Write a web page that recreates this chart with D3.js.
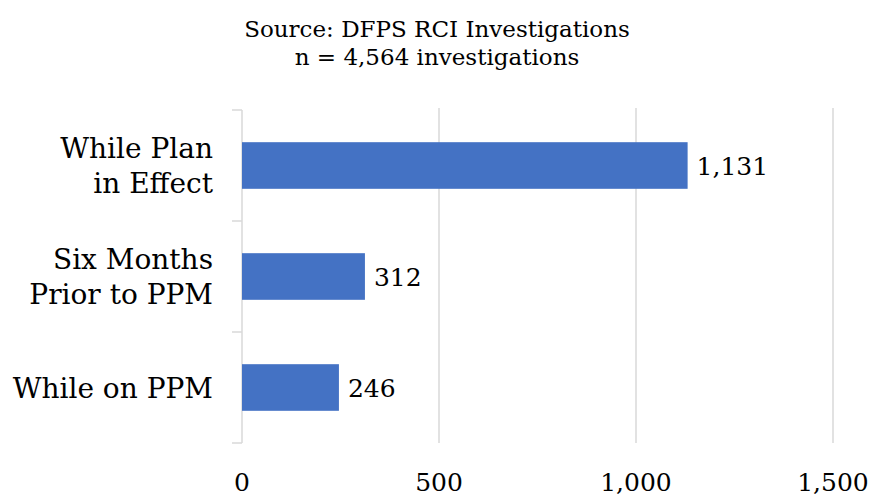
<!DOCTYPE html>
<html>
<head>
<meta charset="utf-8">
<script src="https://cdn.jsdelivr.net/npm/d3@7"></script>
<style>
  html, body { margin: 0; padding: 0; background: #fff; }
  svg text { font-family: "DejaVu Serif", "Liberation Serif", serif; fill: #000; }
</style>
</head>
<body>
<svg id="chart" width="875" height="498"></svg>
<script>
// Investigation counts by timing relative to the plan
const categories = [["While Plan", "in Effect"], ["Six Months", "Prior to PPM"], ["While on PPM"]];
const values = [1131, 312, 246];
const tickValues = [0, 500, 1000, 1500];
const titleLines = ["Source: DFPS RCI Investigations", "n = 4,564 investigations"];

const svg = d3.select("#chart");
const margin = { left: 242, right: 42, top: 110, bottom: 55 };
const W = 875, H = 498;

const x = d3.scaleLinear().domain([0, 1500]).range([margin.left, W - margin.right]);
const y = d3.scaleBand().domain(d3.range(categories.length))
  .range([margin.top, H - margin.bottom]).paddingInner(0.58).paddingOuter(0.29);

// Title
svg.selectAll("text.title").data(titleLines).join("text")
  .attr("class", "title")
  .attr("x", 437).attr("y", (d, i) => 37 + i * 28)
  .attr("text-anchor", "middle")
  .style("font-size", "23px")
  .text(d => d);

// Vertical gridlines
svg.append("g").selectAll("line").data(tickValues.slice(1)).join("line")
  .attr("x1", d => x(d)).attr("x2", d => x(d))
  .attr("y1", margin.top - 2).attr("y2", H - margin.bottom)
  .attr("stroke", "#d9d9d9").attr("stroke-width", 1.5);

// Category axis with ticks at band boundaries
const bandEdges = d3.range(categories.length + 1).map(i =>
  i < categories.length ? y(i) - y.step() * y.paddingInner() / 2 : y(categories.length - 1) + y.bandwidth() + y.step() * y.paddingInner() / 2);
const axisG = svg.append("g");
axisG.append("line")
  .attr("x1", x(0)).attr("x2", x(0))
  .attr("y1", bandEdges[0]).attr("y2", bandEdges[bandEdges.length - 1])
  .attr("stroke", "#d9d9d9").attr("stroke-width", 1.5);
axisG.selectAll("line.tick").data(bandEdges).join("line")
  .attr("class", "tick")
  .attr("x1", x(0) - 10).attr("x2", x(0))
  .attr("y1", d => d).attr("y2", d => d)
  .attr("stroke", "#d9d9d9").attr("stroke-width", 1.5);

// Bars
svg.append("g").selectAll("rect").data(values).join("rect")
  .attr("x", x(0))
  .attr("y", (d, i) => y(i))
  .attr("width", d => x(d) - x(0))
  .attr("height", y.bandwidth())
  .attr("fill", "#4472c4");

// Value labels
svg.append("g").selectAll("text").data(values).join("text")
  .attr("x", d => x(d) + 9)
  .attr("y", (d, i) => y(i) + y.bandwidth() / 2 + 9)
  .style("font-size", "25px")
  .text(d => d3.format(",")(d));

// Category labels
const lineH = 35;
svg.append("g").selectAll("text").data(categories).join("text")
  .attr("text-anchor", "end")
  .style("font-size", "28px")
  .each(function(lines, i) {
    const cy = y(i) + y.bandwidth() / 2;
    const first = cy + 10 - (lines.length - 1) * lineH / 2;
    d3.select(this).selectAll("tspan").data(lines).join("tspan")
      .attr("x", 213)
      .attr("y", (d, j) => first + j * lineH)
      .text(d => d);
  });

// Value axis tick labels
svg.append("g").selectAll("text").data(tickValues).join("text")
  .attr("x", d => x(d)).attr("y", 491)
  .attr("text-anchor", "middle")
  .style("font-size", "25px")
  .text(d => d3.format(",")(d));
</script>
</body>
</html>
